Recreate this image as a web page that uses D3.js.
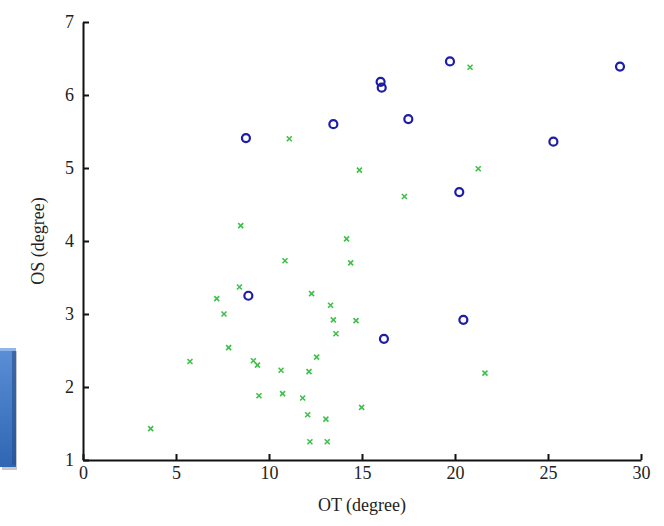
<!DOCTYPE html>
<html>
<head>
<meta charset="utf-8">
<script src="https://cdn.jsdelivr.net/npm/d3@7"></script>
<style>
  body { margin: 0; background: #fff; }
  svg { display: block; }
  .tick text { font-family: "Liberation Serif", "DejaVu Serif", serif; font-size: 18px; fill: #222; }
</style>
</head>
<body>
<div id="chart"></div>
<script>
const width = 664;
const height = 526;
const margin = { top: 22, right: 23, bottom: 66, left: 83 };

// data: OT (x) and OS (y), in degrees
const circleOT = [8.76, 13.46, 16.0, 16.06, 19.73, 17.49, 25.29, 28.87, 20.23, 8.89, 20.45, 16.18];
const circleOS = [5.41, 5.60, 6.18, 6.10, 6.46, 5.67, 5.36, 6.39, 4.67, 3.25, 2.92, 2.66];

const crossOT = [11.09, 14.86, 8.48, 14.17, 20.81, 21.25, 17.28, 10.86, 14.39, 8.41, 7.19, 12.29,
                 7.58, 13.31, 13.46, 14.68, 13.60, 7.83, 5.75, 9.16, 9.38, 12.56, 10.65, 12.15,
                 9.46, 10.73, 11.81, 14.98, 12.08, 13.06, 3.64, 12.20, 13.13, 21.61];
const crossOS = [5.40, 4.97, 4.21, 4.03, 6.38, 4.99, 4.61, 3.73, 3.70, 3.37, 3.21, 3.28,
                 3.00, 3.12, 2.92, 2.91, 2.73, 2.54, 2.35, 2.36, 2.30, 2.41, 2.23, 2.21,
                 1.88, 1.91, 1.85, 1.72, 1.62, 1.56, 1.43, 1.25, 1.25, 2.19];

const xTicks = [0, 5, 10, 15, 20, 25, 30];
const yTicks = [1, 2, 3, 4, 5, 6, 7];

const svg = d3.select("#chart").append("svg")
    .attr("width", width)
    .attr("height", height);

const defs = svg.append("defs");
const grad = defs.append("linearGradient")
    .attr("id", "boxGrad")
    .attr("x1", 0).attr("y1", 0).attr("x2", 0).attr("y2", 1);
grad.append("stop").attr("offset", "0%").attr("stop-color", "#5b8fd6");
grad.append("stop").attr("offset", "100%").attr("stop-color", "#2f66b3");
defs.append("filter").attr("id", "soft")
    .append("feGaussianBlur").attr("stdDeviation", 0.45);

// the cut-off blue shape at the left edge
svg.append("rect")
    .attr("x", 2).attr("y", 351)
    .attr("width", 15).attr("height", 119)
    .attr("fill", "#c9c9c9");
svg.append("rect")
    .attr("x", 0).attr("y", 348)
    .attr("width", 16).attr("height", 119)
    .attr("fill", "url(#boxGrad)");
svg.append("rect")
    .attr("x", 12).attr("y", 350)
    .attr("width", 4).attr("height", 115)
    .attr("fill", "#244f8d")
    .attr("opacity", 0.6);
svg.append("rect")
    .attr("x", 0).attr("y", 348)
    .attr("width", 16).attr("height", 3)
    .attr("fill", "#8fb5ea");

const x = d3.scaleLinear().domain([0, 30]).range([margin.left, width - margin.right]);
const y = d3.scaleLinear().domain([1, 7]).range([height - margin.bottom, margin.top]);

const xAxis = svg.append("g")
    .attr("transform", `translate(0,${height - margin.bottom})`)
    .call(d3.axisBottom(x).tickValues(xTicks).tickFormat(d3.format("d"))
        .tickSizeInner(-6).tickSizeOuter(0).tickPadding(5));
const yAxis = svg.append("g")
    .attr("transform", `translate(${margin.left},0)`)
    .call(d3.axisLeft(y).tickValues(yTicks).tickFormat(d3.format("d"))
        .tickSizeInner(-6).tickSizeOuter(0).tickPadding(9));

[xAxis, yAxis].forEach(a => {
    a.select(".domain").attr("stroke", "#111").attr("stroke-width", 2);
    a.selectAll(".tick line").attr("stroke", "#111").attr("stroke-width", 2);
});
yAxis.selectAll(".tick text").attr("dy", "0.3em");
xAxis.selectAll(".tick text").attr("dy", "0.8em");

svg.append("text")
    .attr("x", (x(0) + x(30)) / 2)
    .attr("y", 511)
    .attr("text-anchor", "middle")
    .style("font-family", "Liberation Serif, serif")
    .style("font-size", "18px")
    .attr("fill", "#222")
    .text("OT (degree)");

svg.append("text")
    .attr("transform", `translate(44,${(y(1) + y(7)) / 2}) rotate(-90)`)
    .attr("text-anchor", "middle")
    .style("font-family", "Liberation Serif, serif")
    .style("font-size", "18px")
    .attr("fill", "#222")
    .text("OS (degree)");

const marks = svg.append("g").attr("filter", "url(#soft)");

// green crosses
const crossData = crossOT.map((v, i) => ({ ot: v, os: crossOS[i] }));
const s = 2.5;
marks.selectAll(".cross")
    .data(crossData)
    .enter()
    .append("path")
    .attr("class", "cross")
    .attr("d", d => {
        const cx = x(d.ot), cy = y(d.os);
        return `M${cx - s},${cy - s}L${cx + s},${cy + s}M${cx - s},${cy + s}L${cx + s},${cy - s}`;
    })
    .attr("stroke", "#3fbf4a")
    .attr("stroke-width", 1.6)
    .attr("fill", "none");

// blue circles
const circleData = circleOT.map((v, i) => ({ ot: v, os: circleOS[i] }));
marks.selectAll(".ring")
    .data(circleData)
    .enter()
    .append("circle")
    .attr("class", "ring")
    .attr("cx", d => x(d.ot))
    .attr("cy", d => y(d.os))
    .attr("r", 4)
    .attr("fill", "none")
    .attr("stroke", "#1c1ca8")
    .attr("stroke-width", 2.2);
</script>
</body>
</html>
